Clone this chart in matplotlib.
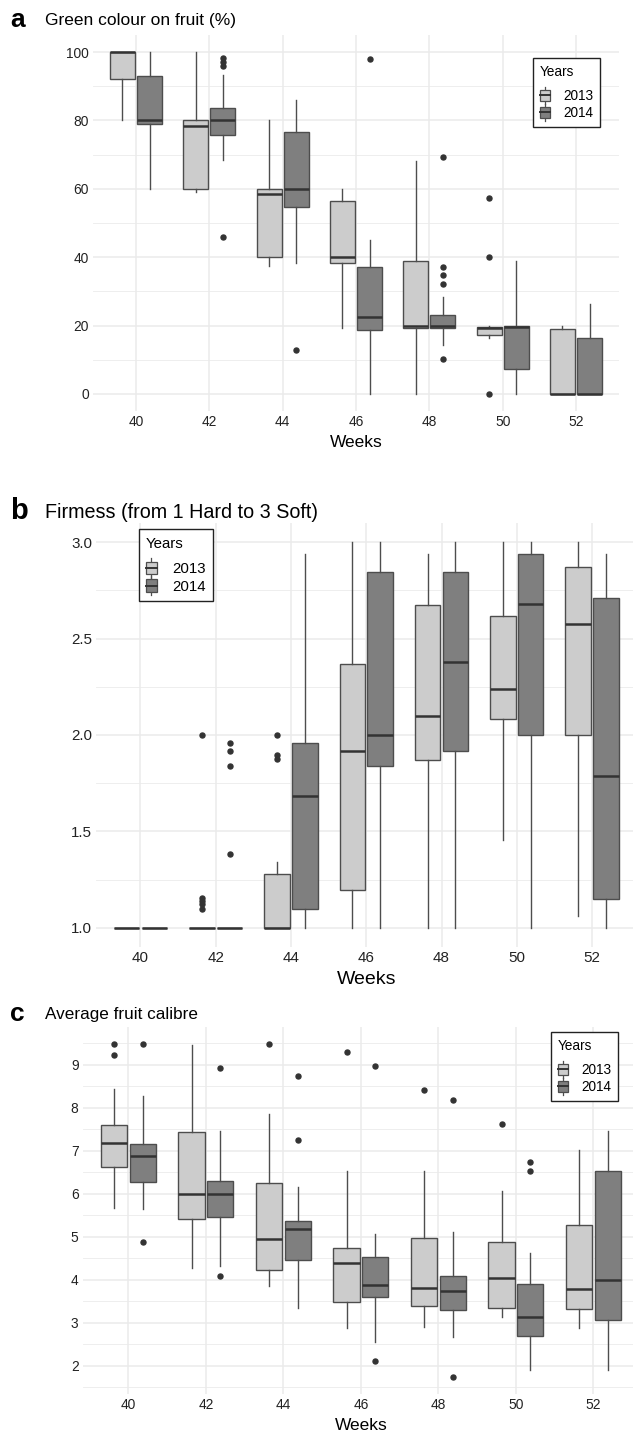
import matplotlib
matplotlib.use("Agg")
import matplotlib.pyplot as plt
from matplotlib.patches import Rectangle, Patch
from matplotlib.lines import Line2D
from matplotlib.legend_handler import HandlerBase

plt.rcParams['font.family'] = ['Liberation Sans', 'DejaVu Sans']

weeks = [40, 42, 44, 46, 48, 50, 52]
years = ["2013", "2014"]

# box stats per week: (whisker low, q1, median, q3, whisker high)
green_2013 = [(80, 92, 100, 100, 100), (59, 60, 78.5, 80, 100), (37.5, 40, 58.5, 60, 80),
              (19.2, 38.2, 40, 56.4, 60), (0, 19.4, 20, 39, 68), (16.5, 17.3, 19.2, 19.5, 20),
              (0, 0, 0, 19, 20)]
green_2013_out = [[], [], [], [], [], [0, 40, 57.2], []]
green_2014 = [(60, 79, 80, 93, 100), (68.4, 75.7, 80, 83.7, 93.2), (38.4, 54.8, 60, 76.7, 86),
              (0, 18.7, 22.6, 37, 45), (14.3, 19.3, 20, 23.1, 28.3), (0, 7.2, 19.6, 20, 38.9),
              (0, 0, 0, 16.5, 26.2)]
green_2014_out = [[], [46, 96, 97, 98.2], [12.7], [97.9], [10.1, 32.2, 34.8, 37, 69.2], [], []]

firm_2013 = [(1, 1, 1, 1, 1), (1, 1, 1, 1, 1), (1, 1, 1, 1.278, 1.342), (1, 1.197, 1.915, 2.366, 3.0),
             (1, 1.869, 2.10, 2.672, 2.94), (1.454, 2.081, 2.24, 2.619, 3.0), (1.06, 2.0, 2.577, 2.872, 3.0)]
firm_2013_out = [[], [1.097, 1.123, 1.138, 1.152, 2.0], [1.878, 1.898, 2.0], [], [], [], []]
firm_2014 = [(1, 1, 1, 1, 1), (1, 1, 1, 1, 1), (1, 1.098, 1.682, 1.96, 2.94), (1, 1.84, 2.0, 2.848, 3.0),
             (1, 1.917, 2.38, 2.848, 3.0), (1, 2.0, 2.68, 2.94, 3.0), (1, 1.15, 1.786, 2.713, 2.94)]
firm_2014_out = [[], [1.38, 1.84, 1.917, 1.96], [], [], [], [], []]

calibre_2013 = [(5.674, 6.628, 7.186, 7.598, 8.43), (4.265, 5.42, 6.0, 7.43, 9.47),
                (3.86, 4.226, 4.953, 6.256, 7.85), (2.88, 3.474, 4.38, 4.73, 6.53),
                (2.9, 3.395, 3.8, 4.963, 6.53), (3.14, 3.335, 4.047, 4.87, 6.07),
                (2.877, 3.32, 3.777, 5.27, 7.016)]
calibre_2013_out = [[9.23, 9.49], [], [9.49], [9.29], [8.41], [7.63], []]
calibre_2014 = [(5.637, 6.265, 6.877, 7.163, 8.27), (4.33, 5.45, 6.0, 6.295, 7.46),
                (3.335, 4.458, 5.17, 5.372, 6.163), (2.56, 3.6, 3.877, 4.53, 5.06),
                (2.66, 3.295, 3.737, 4.086, 5.1), (1.89, 2.698, 3.14, 3.907, 4.63),
                (1.89, 3.056, 4.0, 6.54, 7.45)]
calibre_2014_out = [[4.884, 9.49], [4.09, 8.92], [7.256, 8.744], [2.11, 8.97], [1.73, 8.19],
                    [6.535, 6.73], []]

W, H = 633, 1431
FILL = {"2013": "#cccccc", "2014": "#7f7f7f"}
EDGE = "#4d4d4d"
GRID = "#ebebeb"

fig = plt.figure(figsize=(W / 100, H / 100), dpi=100)


def px_axes(left, top, right, bottom):
    return fig.add_axes([left / W, 1 - bottom / H, (right - left) / W, (bottom - top) / H])


class BoxHandler(HandlerBase):
    def create_artists(self, legend, orig_handle, xdescent, ydescent, width, height, fontsize, trans):
        cx = width / 2 - xdescent
        bw = width
        y0 = -ydescent
        wl = Line2D([cx, cx], [y0 - height * 0.28, y0 + height * 1.28], color=EDGE, lw=0.9)
        rect = Rectangle((cx - bw / 2, y0), bw, height, facecolor=orig_handle.get_facecolor(),
                         edgecolor=EDGE, lw=0.9)
        med = Line2D([cx - bw / 2, cx + bw / 2], [y0 + height / 2] * 2, color="#333333", lw=1.4)
        for a in (wl, rect, med):
            a.set_transform(trans)
        return [wl, rect, med]


def draw_boxes(ax, stats, outs, year, shift):
    bs = []
    for (lo, q1, med, q3, hi), fl in zip(stats, outs):
        bs.append(dict(whislo=lo, q1=q1, med=med, q3=q3, whishi=hi, fliers=fl))
    pos = [w + shift for w in weeks]
    ax.bxp(bs, positions=pos, widths=0.68, patch_artist=True, showcaps=False,
           boxprops=dict(facecolor=FILL[year], edgecolor=EDGE, linewidth=1.0),
           whiskerprops=dict(color=EDGE, linewidth=1.0),
           medianprops=dict(color="#333333", linewidth=1.8),
           flierprops=dict(marker="o", markersize=3.6, markerfacecolor="#333333",
                           markeredgecolor="#333333"),
           manage_ticks=False)


def panel(rect, ylim, yticks, yminor, fmt, tick_fs, lab_fs, data, legend_at, leg_fs):
    ax = px_axes(*rect)
    ax.set_xlim(38.82, 53.18)
    ax.set_ylim(*ylim)
    ax.set_xticks(weeks)
    ax.set_yticks(yticks)
    ax.set_yticklabels([fmt % v for v in yticks])
    ax.set_yticks(yminor, minor=True)
    ax.grid(True, which="major", color=GRID, lw=1.1)
    ax.grid(True, which="minor", axis="y", color=GRID, lw=0.6)
    ax.set_axisbelow(True)
    for s in ax.spines.values():
        s.set_visible(False)
    ax.tick_params(which="both", length=0, labelsize=tick_fs, labelcolor="#222222", pad=3)
    ax.set_xlabel("Weeks", fontsize=lab_fs, labelpad=4)
    (s13, o13), (s14, o14) = data
    draw_boxes(ax, s13, o13, "2013", -0.37)
    draw_boxes(ax, s14, o14, "2014", 0.37)
    handles = [Patch(facecolor=FILL[y]) for y in years]
    leg = fig.legend(handles, years, title="Years", loc="upper left",
                     bbox_to_anchor=(legend_at[0] / W, 1 - legend_at[1] / H),
                     bbox_transform=fig.transFigure, borderaxespad=0, fancybox=False,
                     edgecolor="#222222", framealpha=1, fontsize=leg_fs, title_fontsize=leg_fs,
                     handler_map={Patch: BoxHandler()}, handlelength=0.72, handleheight=0.9,
                     handletextpad=1.0, labelspacing=0.22, borderpad=0.5)
    leg._legend_box.align = "left"
    leg._legend_box.sep = 0.75 * leg_fs
    leg.get_frame().set_linewidth(1.0)
    return ax


panel((92.8, 35, 619.2, 411), (-5, 105), [0, 20, 40, 60, 80, 100],
      [10, 30, 50, 70, 90], "%d", 9.9, 12.5,
      [(green_2013, green_2013_out), (green_2014, green_2014_out)], (533, 58), 9.8)
fig.text(10 / W, 1 - 20 / H, "a", fontsize=19, fontweight="bold", va="center")
fig.text(45 / W, 1 - 20 / H, "Green colour on fruit (%)", fontsize=12.5, va="center")

panel((96.1, 523, 636.4, 947), (0.9, 3.1), [1.0, 1.5, 2.0, 2.5, 3.0],
      [1.25, 1.75, 2.25, 2.75], "%.1f", 10.9, 14,
      [(firm_2013, firm_2013_out), (firm_2014, firm_2014_out)], (138.5, 529), 10.8)
fig.text(10 / W, 1 - 511 / H, "b", fontsize=21, fontweight="bold", va="center")
fig.text(45 / W, 1 - 513 / H, "Firmess (from 1 Hard to 3 Soft)", fontsize=14.2, va="center")

panel((82.7, 1027, 639.2, 1394), (1.34, 9.88), [2, 3, 4, 5, 6, 7, 8, 9],
      [1.5, 2.5, 3.5, 4.5, 5.5, 6.5, 7.5, 8.5, 9.5], "%d", 9.9, 12.5,
      [(calibre_2013, calibre_2013_out), (calibre_2014, calibre_2014_out)], (551, 1032), 9.8)
fig.text(10 / W, 1 - 1014 / H, "c", fontsize=19, fontweight="bold", va="center")
fig.text(45 / W, 1 - 1015 / H, "Average fruit calibre", fontsize=12.3, va="center")

fig.savefig("out.png", dpi=100, facecolor="white")
